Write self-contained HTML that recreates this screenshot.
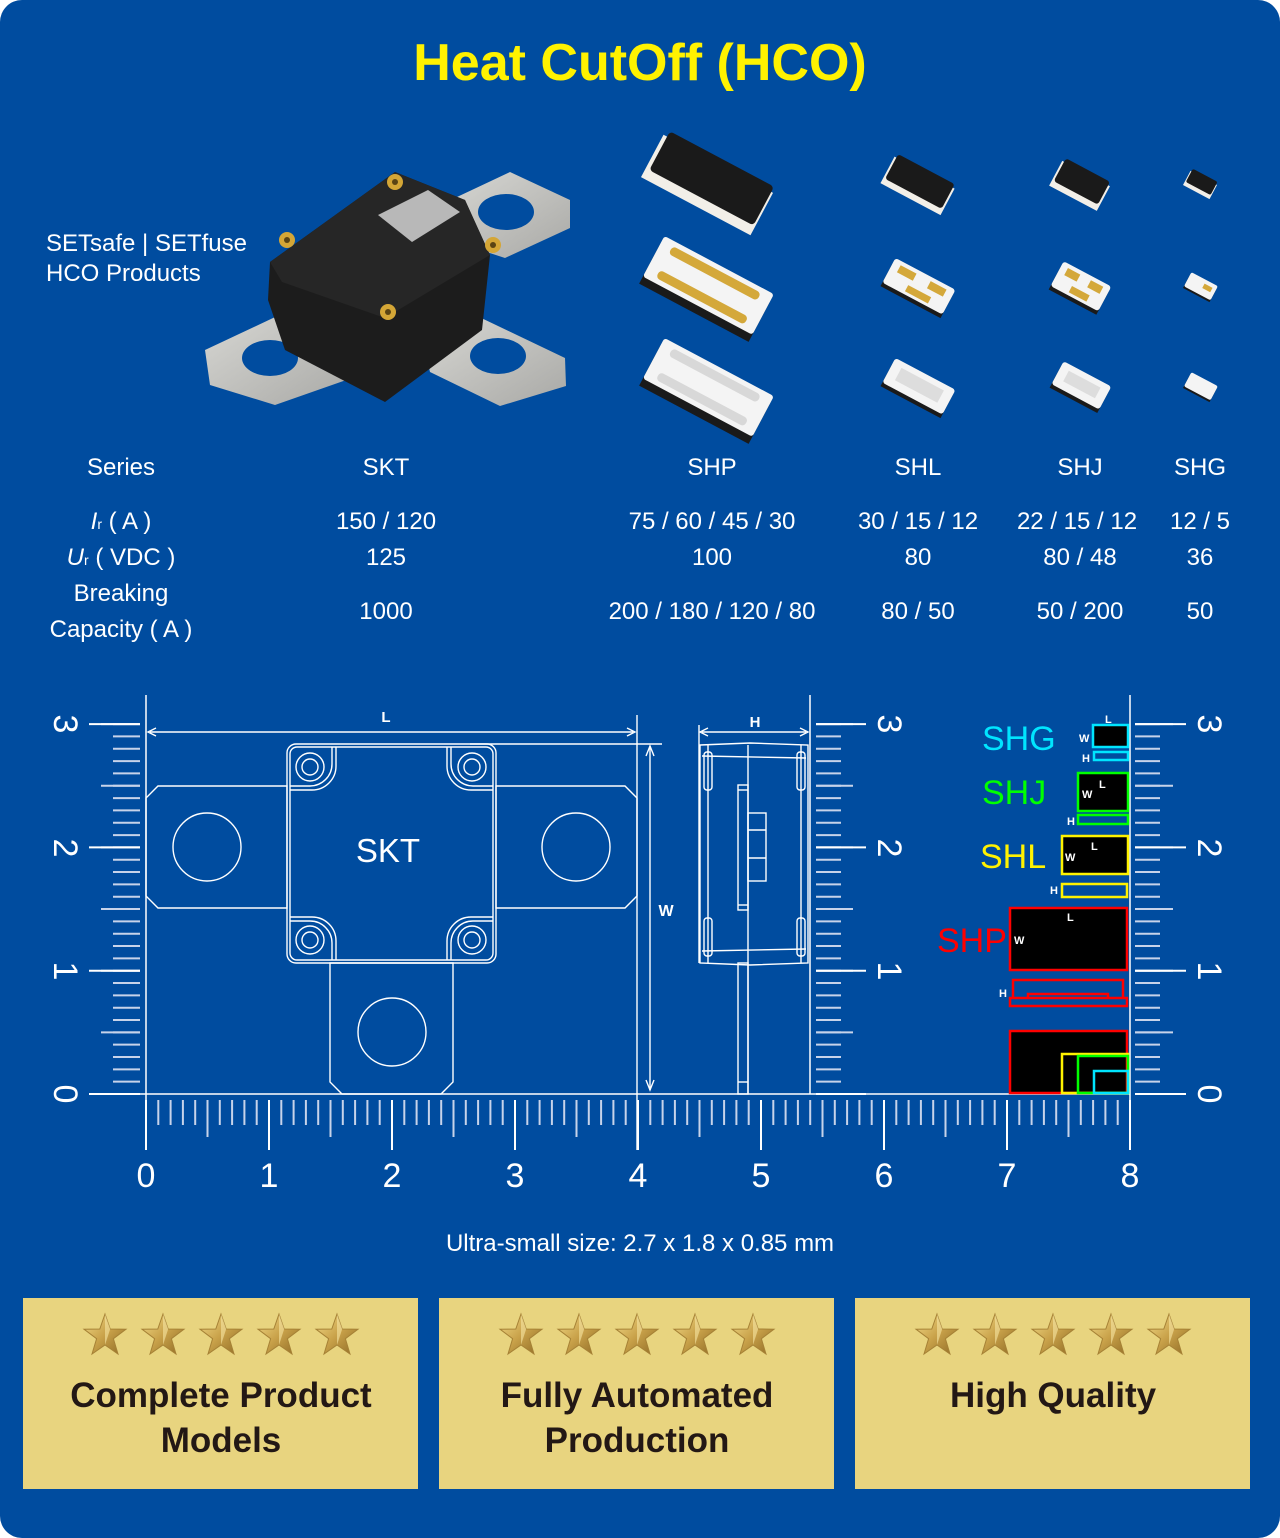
<!DOCTYPE html>
<html><head><meta charset="utf-8"><style>
html,body{margin:0;padding:0;background:#fff;}
svg{display:block;}
text{font-family:"Liberation Sans",sans-serif;}
</style></head><body>
<svg width="1280" height="1538" viewBox="0 0 1280 1538" xmlns="http://www.w3.org/2000/svg">
<defs>
<linearGradient id="gold" x1="0" y1="0" x2="1" y2="1"><stop offset="0" stop-color="#f3dc8a"/><stop offset="0.5" stop-color="#c9a24a"/><stop offset="1" stop-color="#8f6a24"/></linearGradient>
<linearGradient id="metal" x1="0" y1="0" x2="1" y2="1"><stop offset="0" stop-color="#d8d8d4"/><stop offset="1" stop-color="#a9a9a6"/></linearGradient>
<g id="star"><polygon points="0,-22 5.2,-7 21,-6.8 8.4,2.7 13,18 0,9 -13,18 -8.4,2.7 -21,-6.8 -5.2,-7" fill="url(#gold)" stroke="#a68236" stroke-width="1"/><polygon points="0,-22 0,9 5.2,-7" fill="#f7e6a4" opacity="0.6"/></g>
</defs>
<rect x="0" y="0" width="1280" height="1538" rx="22" fill="#004C9F"/>
<text x="640" y="80" font-size="52" font-weight="bold" fill="#FFF200" text-anchor="middle">Heat CutOff (HCO)</text>
<text x="46" y="251" font-size="24" fill="#fff">SETsafe | SETfuse</text>
<text x="46" y="281" font-size="24" fill="#fff">HCO Products</text>

<!-- SKT photo -->
<polygon points="440,205 510,172 570,200 570,228 505,258 450,240" fill="url(#metal)"/>
<ellipse cx="506" cy="212" rx="28" ry="18" fill="#004C9F"/>
<polygon points="205,350 290,310 345,330 352,378 275,405 210,385" fill="url(#metal)"/>
<ellipse cx="270" cy="358" rx="28" ry="18" fill="#004C9F"/>
<polygon points="420,330 475,315 565,358 566,386 500,406 430,372" fill="url(#metal)"/>
<ellipse cx="498" cy="356" rx="28" ry="18" fill="#004C9F"/>
<polygon points="270,262 395,172 465,200 490,255 482,330 385,402 285,350 268,300" fill="#1c1c1c"/>
<polygon points="270,262 395,172 465,200 490,255 385,318 282,282" fill="#262626"/>
<polygon points="378,215 428,190 460,212 412,242" fill="#b8b8b8"/>
<g fill="#d4a636"><circle cx="287" cy="240" r="8"/><circle cx="395" cy="182" r="8"/><circle cx="493" cy="245" r="8"/><circle cx="388" cy="312" r="8"/></g>
<g fill="#5a4414"><circle cx="287" cy="240" r="3"/><circle cx="395" cy="182" r="3"/><circle cx="493" cy="245" r="3"/><circle cx="388" cy="312" r="3"/></g>

<!-- SHP chips -->
<g transform="translate(707,185) rotate(28)"><rect x="-62" y="-24" width="124" height="48" fill="#f2efe8"/><rect x="-58" y="-30" width="118" height="44" rx="4" fill="#1a1a1a"/></g>
<g transform="translate(707,288) rotate(28)"><rect x="-62" y="-16" width="124" height="44" fill="#1a1a1a"/><rect x="-62" y="-26" width="124" height="46" rx="3" fill="#f4f4f4"/><rect x="-50" y="-21" width="100" height="9" rx="4" fill="#d4a83a"/><rect x="-50" y="6" width="100" height="9" rx="4" fill="#d4a83a"/></g>
<g transform="translate(707,390) rotate(28)"><rect x="-62" y="-16" width="124" height="44" fill="#1a1a1a"/><rect x="-62" y="-26" width="124" height="46" rx="3" fill="#f4f4f4"/><rect x="-50" y="-21" width="100" height="9" rx="4" fill="#d8d8d8"/><rect x="-50" y="6" width="100" height="9" rx="4" fill="#d8d8d8"/></g>
<!-- SHL -->
<g transform="translate(918,185) rotate(28)"><rect x="-34" y="-14" width="68" height="30" fill="#f2efe8"/><rect x="-32" y="-18" width="64" height="28" rx="3" fill="#1a1a1a"/></g>
<g transform="translate(918,288) rotate(28)"><rect x="-34" y="-10" width="68" height="26" fill="#1a1a1a"/><rect x="-34" y="-16" width="68" height="28" rx="3" fill="#f4f4f4"/><rect x="-26" y="-12" width="18" height="8" fill="#d4a83a"/><rect x="8" y="-12" width="18" height="8" fill="#d4a83a"/><rect x="-10" y="2" width="26" height="7" fill="#d4a83a"/></g>
<g transform="translate(918,388) rotate(28)"><rect x="-34" y="-10" width="68" height="26" fill="#1a1a1a"/><rect x="-34" y="-16" width="68" height="28" rx="3" fill="#f4f4f4"/><rect x="-24" y="-10" width="48" height="14" fill="#ddd"/></g>
<!-- SHJ -->
<g transform="translate(1080,185) rotate(28)"><rect x="-27" y="-13" width="54" height="28" fill="#f2efe8"/><rect x="-25" y="-17" width="50" height="26" rx="3" fill="#1a1a1a"/></g>
<g transform="translate(1080,288) rotate(28)"><rect x="-27" y="-10" width="54" height="26" fill="#1a1a1a"/><rect x="-27" y="-16" width="54" height="28" rx="3" fill="#f4f4f4"/><rect x="-20" y="-12" width="14" height="8" fill="#d4a83a"/><rect x="6" y="-12" width="14" height="8" fill="#d4a83a"/><rect x="-8" y="2" width="20" height="7" fill="#d4a83a"/></g>
<g transform="translate(1080,388) rotate(28)"><rect x="-27" y="-10" width="54" height="24" fill="#1a1a1a"/><rect x="-27" y="-16" width="54" height="26" rx="3" fill="#f4f4f4"/><rect x="-18" y="-10" width="36" height="12" fill="#ddd"/></g>
<!-- SHG -->
<g transform="translate(1200,185) rotate(28)"><rect x="-15" y="-8" width="30" height="16" fill="#f2efe8"/><rect x="-14" y="-11" width="28" height="15" rx="2" fill="#1a1a1a"/></g>
<g transform="translate(1200,288) rotate(28)"><rect x="-15" y="-6" width="30" height="14" fill="#1a1a1a"/><rect x="-15" y="-10" width="30" height="16" rx="2" fill="#f4f4f4"/><rect x="2" y="-6" width="9" height="5" fill="#d4a83a"/></g>
<g transform="translate(1200,388) rotate(28)"><rect x="-15" y="-6" width="30" height="14" fill="#1a1a1a"/><rect x="-15" y="-10" width="30" height="16" rx="2" fill="#f4f4f4"/></g>

<!-- table -->
<g font-size="24" fill="#fff" text-anchor="middle">
<text x="121" y="475">Series</text><text x="386" y="475">SKT</text><text x="712" y="475">SHP</text><text x="918" y="475">SHL</text><text x="1080" y="475">SHJ</text><text x="1200" y="475">SHG</text>
<text x="121" y="529"><tspan font-style="italic">I</tspan><tspan font-size="14">r</tspan> ( A )</text>
<text x="386" y="529">150 / 120</text><text x="712" y="529">75 / 60 / 45 / 30</text><text x="918" y="529">30 / 15 / 12</text><text x="1077" y="529">22 / 15 / 12</text><text x="1200" y="529">12 / 5</text>
<text x="121" y="565"><tspan font-style="italic">U</tspan><tspan font-size="14">r</tspan> ( VDC )</text>
<text x="386" y="565">125</text><text x="712" y="565">100</text><text x="918" y="565">80</text><text x="1080" y="565">80 / 48</text><text x="1200" y="565">36</text>
<text x="121" y="601">Breaking</text><text x="121" y="637">Capacity ( A )</text>
<text x="386" y="619">1000</text><text x="712" y="619">200 / 180 / 120 / 80</text><text x="918" y="619">80 / 50</text><text x="1080" y="619">50 / 200</text><text x="1200" y="619">50</text>
</g>

<!-- rulers -->
<g stroke="#fff" fill="none">
<line x1="146" y1="695" x2="146" y2="1150" stroke-width="1.5"/>
<line x1="90" y1="1094" x2="1130" y2="1094" stroke-width="1.5"/>
<line x1="810" y1="695" x2="810" y2="1094" stroke-width="1.5"/>
<line x1="1130" y1="695" x2="1130" y2="1150" stroke-width="1.5"/>
<!-- bottom ticks -->
<g stroke="#c7d3ea">
<line x1="145" y1="1112.5" x2="1132" y2="1112.5" stroke-width="25" stroke-dasharray="2 10.3"/>
<line x1="145" y1="1118.5" x2="1132" y2="1118.5" stroke-width="37" stroke-dasharray="2 59.5"/>
</g>
<line x1="145" y1="1125" x2="1132" y2="1125" stroke-width="50" stroke-dasharray="2 121"/>
<!-- left ticks -->
<g stroke="#c7d3ea">
<line x1="126.5" y1="1095" x2="126.5" y2="722" stroke-width="27" stroke-dasharray="2 10.33"/>
<line x1="120.5" y1="1095" x2="120.5" y2="722" stroke-width="39" stroke-dasharray="2 59.65"/>
</g>
<line x1="114.5" y1="1095" x2="114.5" y2="722" stroke-width="51" stroke-dasharray="2 121.3"/>
<!-- middle ticks -->
<g stroke="#c7d3ea">
<line x1="828.5" y1="1095" x2="828.5" y2="722" stroke-width="25" stroke-dasharray="2 10.33"/>
<line x1="834.5" y1="1095" x2="834.5" y2="722" stroke-width="37" stroke-dasharray="2 59.65"/>
</g>
<line x1="841" y1="1095" x2="841" y2="722" stroke-width="50" stroke-dasharray="2 121.3"/>
<!-- right ticks -->
<g stroke="#c7d3ea">
<line x1="1147.5" y1="1095" x2="1147.5" y2="722" stroke-width="25" stroke-dasharray="2 10.33"/>
<line x1="1154" y1="1095" x2="1154" y2="722" stroke-width="38" stroke-dasharray="2 59.65"/>
</g>
<line x1="1160.5" y1="1095" x2="1160.5" y2="722" stroke-width="51" stroke-dasharray="2 121.3"/>
</g>
<g font-size="34" fill="#fff" text-anchor="middle">
<text x="146" y="1187">0</text><text x="269" y="1187">1</text><text x="392" y="1187">2</text><text x="515" y="1187">3</text><text x="638" y="1187">4</text><text x="761" y="1187">5</text><text x="884" y="1187">6</text><text x="1007" y="1187">7</text><text x="1130" y="1187">8</text>
<g transform="translate(54,1094) rotate(90)"><text x="0" y="0">0</text></g>
<g transform="translate(54,971) rotate(90)"><text x="0" y="0">1</text></g>
<g transform="translate(54,848) rotate(90)"><text x="0" y="0">2</text></g>
<g transform="translate(54,724) rotate(90)"><text x="0" y="0">3</text></g>
<g transform="translate(878,971) rotate(90)"><text x="0" y="0">1</text></g>
<g transform="translate(878,848) rotate(90)"><text x="0" y="0">2</text></g>
<g transform="translate(878,724) rotate(90)"><text x="0" y="0">3</text></g>
<g transform="translate(1198,1094) rotate(90)"><text x="0" y="0">0</text></g>
<g transform="translate(1198,971) rotate(90)"><text x="0" y="0">1</text></g>
<g transform="translate(1198,848) rotate(90)"><text x="0" y="0">2</text></g>
<g transform="translate(1198,724) rotate(90)"><text x="0" y="0">3</text></g>
</g>

<!-- SKT drawing -->
<g stroke="#fff" fill="none" stroke-width="1.4">
<line x1="150" y1="732" x2="633" y2="732"/><polyline points="156,728 148,732 156,736"/><polyline points="627,728 635,732 627,736"/>
<line x1="637" y1="715" x2="637" y2="1150"/>
<line x1="470" y1="744" x2="662" y2="744"/>
<line x1="650" y1="748" x2="650" y2="1090"/><polyline points="646,756 650,746 654,756"/><polyline points="646,1080 650,1090 654,1080"/>
<polygon points="158,786 287,786 287,908 158,908 146,896 146,798"/>
<polygon points="496,786 625,786 637,798 637,896 625,908 496,908"/>
<polygon points="330,963 453,963 453,1082 441,1094 342,1094 330,1082"/>
<ellipse cx="207" cy="847" rx="34" ry="34"/><ellipse cx="576" cy="847" rx="34" ry="34"/><ellipse cx="392" cy="1032" rx="34" ry="34"/>
<rect x="287" y="744" width="209" height="219" rx="9"/>
<rect x="290" y="747" width="203" height="213" rx="7"/>
<path d="M290,786 H310 A22,22 0 0 0 332,764 V747"/><path d="M290,790 H312 A24,24 0 0 0 336,766 V747"/>
<path d="M493,786 H473 A22,22 0 0 1 451,764 V747"/><path d="M493,790 H471 A24,24 0 0 1 447,766 V747"/>
<path d="M290,921 H310 A22,22 0 0 1 332,943 V960"/><path d="M290,917 H312 A24,24 0 0 1 336,941 V960"/>
<path d="M493,921 H473 A22,22 0 0 0 451,943 V960"/><path d="M493,917 H471 A24,24 0 0 0 447,941 V960"/>
<circle cx="310" cy="767" r="14"/><circle cx="310" cy="767" r="8"/>
<circle cx="472" cy="767" r="14"/><circle cx="472" cy="767" r="8"/>
<circle cx="310" cy="940" r="14"/><circle cx="310" cy="940" r="8"/>
<circle cx="472" cy="940" r="14"/><circle cx="472" cy="940" r="8"/>
</g>
<text x="386" y="722" font-size="15" font-weight="bold" fill="#fff" text-anchor="middle">L</text>
<text x="666" y="916" font-size="16" font-weight="bold" fill="#fff" text-anchor="middle">W</text>
<text x="388" y="862" font-size="33" fill="#fff" text-anchor="middle">SKT</text>

<!-- side view -->
<g stroke="#fff" fill="none" stroke-width="1.4">
<line x1="702" y1="732" x2="806" y2="732"/><polyline points="708,728 700,732 708,736"/><polyline points="800,728 808,732 800,736"/>
<line x1="699" y1="725" x2="699" y2="963"/>
<path d="M700,745 L750,743 L808,745 L808,963 L750,965 L700,963 Z"/>
<line x1="702" y1="756" x2="806" y2="758"/><line x1="702" y1="951" x2="806" y2="949"/>
<line x1="708" y1="745" x2="708" y2="963"/><line x1="801" y1="745" x2="801" y2="963"/>
<rect x="704" y="752" width="8" height="38" rx="3"/><rect x="797" y="752" width="8" height="38" rx="3"/>
<rect x="704" y="918" width="8" height="38" rx="3"/><rect x="797" y="918" width="8" height="38" rx="3"/>
<line x1="748" y1="745" x2="748" y2="1094"/>
<rect x="738" y="785" width="10" height="125"/><line x1="738" y1="790" x2="748" y2="790"/><line x1="738" y1="905" x2="748" y2="905"/>
<rect x="748" y="813" width="18" height="68"/><line x1="748" y1="830" x2="766" y2="830"/><line x1="748" y1="858" x2="766" y2="858"/>
<rect x="738" y="963" width="10" height="131"/><line x1="738" y1="1082" x2="748" y2="1082"/>
</g>
<text x="755" y="727" font-size="15" font-weight="bold" fill="#fff" text-anchor="middle">H</text>

<!-- right legend -->
<g font-size="34">
<text x="982" y="750" fill="#00E5FF">SHG</text>
<text x="982" y="804" fill="#00FF00">SHJ</text>
<text x="980" y="868" fill="#FFF200">SHL</text>
<text x="937" y="952" fill="#FF0000">SHP</text>
</g>
<g stroke-width="2.5">
<rect x="1093" y="725" width="35" height="22" fill="#000" stroke="#00E5FF"/>
<rect x="1094" y="752" width="34" height="8" fill="none" stroke="#00E5FF"/>
<rect x="1078" y="773" width="50" height="38" fill="#000" stroke="#00FF00"/>
<rect x="1078" y="815" width="50" height="9" fill="none" stroke="#00FF00"/>
<rect x="1062" y="836" width="66" height="38" fill="#000" stroke="#FFF200"/>
<rect x="1062" y="884" width="65" height="13" fill="none" stroke="#FFF200"/>
<rect x="1010" y="908" width="117" height="62" fill="#000" stroke="#FF0000"/>
<path d="M1013,998 V980 H1123 V998 M1028,998 V994 H1108 V998" fill="none" stroke="#FF0000"/>
<rect x="1010" y="998" width="117" height="8" fill="none" stroke="#FF0000"/>
<rect x="1010" y="1031" width="117" height="62" fill="#000" stroke="#FF0000"/>
<rect x="1062" y="1054" width="66" height="39" fill="none" stroke="#FFF200"/>
<rect x="1078" y="1056" width="50" height="37" fill="none" stroke="#00FF00"/>
<rect x="1094" y="1071" width="34" height="22" fill="none" stroke="#00E5FF"/>
</g>
<g font-size="11" font-weight="bold" fill="#fff">
<text x="1105" y="723">L</text><text x="1079" y="742">W</text><text x="1082" y="762">H</text>
<text x="1099" y="788">L</text><text x="1082" y="798">W</text><text x="1067" y="825">H</text>
<text x="1091" y="850">L</text><text x="1065" y="861">W</text><text x="1050" y="894">H</text>
<text x="1067" y="921">L</text><text x="1014" y="944">W</text><text x="999" y="997">H</text>
</g>

<text x="640" y="1251" font-size="24" fill="#fff" text-anchor="middle">Ultra-small size: 2.7 x 1.8 x 0.85 mm</text>

<!-- cards -->
<rect x="23" y="1298" width="395" height="191" fill="#E8D47F"/>
<rect x="439" y="1298" width="395" height="191" fill="#E8D47F"/>
<rect x="855" y="1298" width="395" height="191" fill="#E8D47F"/>
<g>
<use href="#star" x="105" y="1336"/><use href="#star" x="163" y="1336"/><use href="#star" x="221" y="1336"/><use href="#star" x="279" y="1336"/><use href="#star" x="337" y="1336"/>
<use href="#star" x="521" y="1336"/><use href="#star" x="579" y="1336"/><use href="#star" x="637" y="1336"/><use href="#star" x="695" y="1336"/><use href="#star" x="753" y="1336"/>
<use href="#star" x="937" y="1336"/><use href="#star" x="995" y="1336"/><use href="#star" x="1053" y="1336"/><use href="#star" x="1111" y="1336"/><use href="#star" x="1169" y="1336"/>
</g>
<g font-size="35" font-weight="bold" fill="#231815" text-anchor="middle">
<text x="221" y="1407">Complete Product</text><text x="221" y="1452">Models</text>
<text x="637" y="1407">Fully Automated</text><text x="637" y="1452">Production</text>
<text x="1053" y="1407">High Quality</text>
</g>
</svg>
</body></html>
